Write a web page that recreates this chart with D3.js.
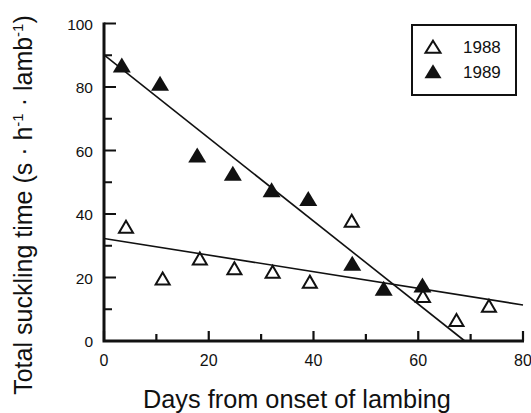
<!DOCTYPE html>
<html>
<head>
<meta charset="utf-8">
<script src="https://cdn.jsdelivr.net/npm/d3@7/dist/d3.min.js"></script>
<style>
  html, body { margin: 0; padding: 0; background: #fff; }
  svg { display: block; }
  text { font-family: "Liberation Sans", Arial, Helvetica, sans-serif; fill: #111; }
</style>
</head>
<body>
<script>
// Suckling time per lamb against days since the start of lambing
const days1988 = [4.2, 11.2, 18.3, 24.9, 32.2, 39.3, 47.3, 60.9, 67.3, 73.5];
const time1988 = [36.0, 19.7, 26.0, 22.9, 21.8, 18.7, 37.9, 14.2, 6.6, 11.1];
const days1989 = [3.4, 10.7, 17.8, 24.6, 32.0, 39.0, 47.4, 53.4, 60.8];
const time1989 = [86.9, 81.2, 58.6, 52.8, 47.6, 44.9, 24.5, 16.6, 17.6];

// Fitted linear regressions (intercept, slope) per year
const fitYears = ["1988", "1989"];
const fitIntercepts = [32.3, 90.1];
const fitSlopes = [-0.262, -1.308];

const xTicks = [0, 20, 40, 60, 80];
const xMinorTicks = [10, 30, 50, 70];
const yTicks = [0, 20, 40, 60, 80, 100];
const yMinorTicks = [10, 30, 50, 70, 90];
const legendYears = ["1988", "1989"];

const W = 531, H = 413;
const INK = "#111";
const svg = d3.select("body").append("svg").attr("width", W).attr("height", H);

const x = d3.scaleLinear().domain([0, 80]).range([104, 523]);
const y = d3.scaleLinear().domain([0, 100]).range([341, 23.5]);

// Regression lines, clipped to the plotted region (y >= 0, x <= 80)
const fitLine = d3.line().x(d => x(d[0])).y(d => y(d[1]));
fitYears.forEach((yr, i) => {
  const a = fitIntercepts[i], b = fitSlopes[i];
  const xEnd = Math.min(80, b < 0 ? -a / b : 80);
  svg.append("path")
    .attr("d", fitLine([[0, a], [xEnd, a + b * xEnd]]))
    .attr("fill", "none").attr("stroke", INK).attr("stroke-width", 1.6);
});

// Triangle marker path centred on its bounding box
const tri = (w, h) => `M0,${-h / 2}L${w / 2},${h / 2}L${-w / 2},${h / 2}Z`;

svg.append("g").selectAll("path")
  .data(days1988.map((d, i) => [d, time1988[i]]))
  .join("path")
  .attr("transform", d => `translate(${x(d[0])},${y(d[1])})`)
  .attr("d", tri(14, 12))
  .attr("fill", "#fff").attr("stroke", INK).attr("stroke-width", 2);

svg.append("g").selectAll("path")
  .data(days1989.map((d, i) => [d, time1989[i]]))
  .join("path")
  .attr("transform", d => `translate(${x(d[0])},${y(d[1])})`)
  .attr("d", tri(18, 15))
  .attr("fill", INK);

// Axis frame (left and bottom)
const framePath = d3.path();
framePath.moveTo(x(0), y(100) - 1);
framePath.lineTo(x(0), y(0));
framePath.lineTo(x(80) + 1, y(0));
svg.append("path")
  .attr("d", framePath.toString())
  .attr("fill", "none").attr("stroke", INK).attr("stroke-width", 3);

// Inward-pointing major and minor ticks
const tickPath = d3.path();
xTicks.forEach(v => { tickPath.moveTo(x(v), y(0)); tickPath.lineTo(x(v), y(0) - 10); });
xMinorTicks.forEach(v => { tickPath.moveTo(x(v), y(0)); tickPath.lineTo(x(v), y(0) - 7); });
yTicks.forEach(v => { tickPath.moveTo(x(0), y(v)); tickPath.lineTo(x(0) + 12, y(v)); });
yMinorTicks.forEach(v => { tickPath.moveTo(x(0), y(v)); tickPath.lineTo(x(0) + 8, y(v)); });
svg.append("path")
  .attr("d", tickPath.toString())
  .attr("fill", "none").attr("stroke", INK).attr("stroke-width", 2.2);

// Tick labels
svg.append("g").selectAll("text").data(xTicks).join("text")
  .attr("x", d => x(d)).attr("y", y(0) + 25)
  .attr("text-anchor", "middle").attr("font-size", 16)
  .text(d3.format("d"));
svg.append("g").selectAll("text").data(yTicks).join("text")
  .attr("x", x(0) - 11).attr("y", d => y(d) + 6)
  .attr("text-anchor", "end").attr("font-size", 15.5)
  .text(d3.format("d"));

// Axis titles
svg.append("text")
  .attr("x", 297).attr("y", 408)
  .attr("text-anchor", "middle").attr("font-size", 25.3)
  .text("Days from onset of lambing");

const yt = svg.append("text")
  .attr("transform", "translate(32,205) rotate(-90)")
  .attr("text-anchor", "middle").attr("font-size", 25);
yt.append("tspan").text("Total suckling time (s · h");
yt.append("tspan").attr("dy", -9).attr("font-size", 15).text("-1");
yt.append("tspan").attr("dy", 9).text(" · lamb");
yt.append("tspan").attr("dy", -9).attr("font-size", 15).text("-1");
yt.append("tspan").attr("dy", 9).text(")");

// Legend
const lg = svg.append("g");
lg.append("rect").attr("x", 412).attr("y", 25).attr("width", 104).attr("height", 70)
  .attr("fill", "#fff").attr("stroke", INK).attr("stroke-width", 2);
legendYears.forEach((yr, i) => {
  const cy = 46.7 + i * 24.5;
  lg.append("path")
    .attr("transform", `translate(433,${cy})`)
    .attr("d", i === 0 ? tri(15, 12) : tri(17, 14))
    .attr("fill", i === 0 ? "#fff" : INK)
    .attr("stroke", i === 0 ? INK : "none").attr("stroke-width", 2);
  lg.append("text").attr("x", 463).attr("y", cy + 6.5).attr("font-size", 17).text(yr);
});
</script>
</body>
</html>
